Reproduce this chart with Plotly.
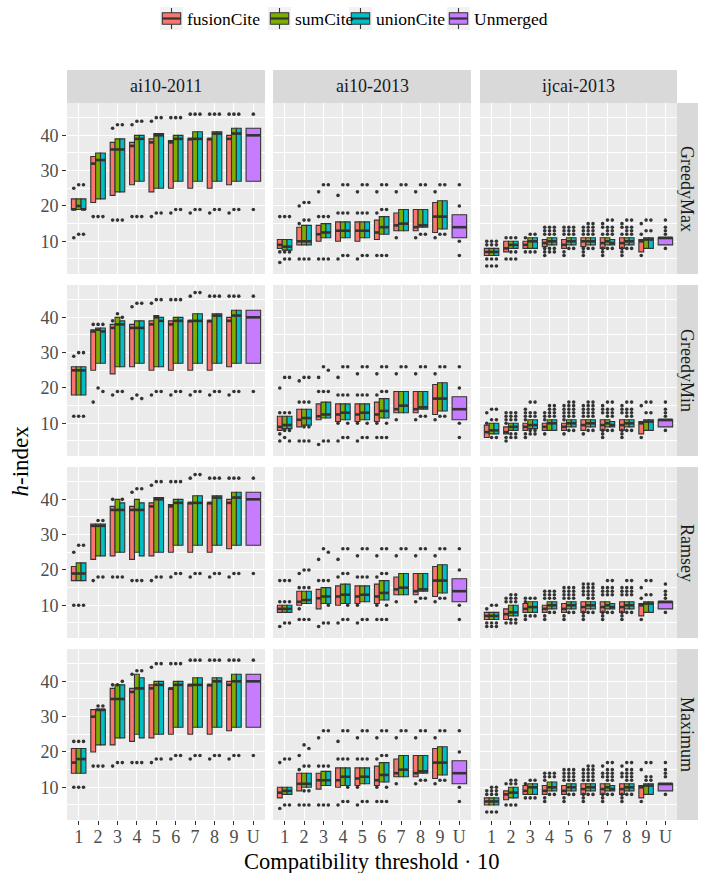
import plotly.graph_objects as go

# ---------------- categories / labels ----------------
SERIES = ["fusionCite", "sumCite", "unionCite"]
UNMERGED = "Unmerged"
DATASETS = ["ai10-2011", "ai10-2013", "ijcai-2013"]
METHODS = ["GreedyMax", "GreedyMin", "Ramsey", "Maximum"]
THRESHOLDS = [1, 2, 3, 4, 5, 6, 7, 8, 9]
TICK_LABELS = ["1", "2", "3", "4", "5", "6", "7", "8", "9", "U"]
Y_TICKS = [10, 20, 30, 40]

# ---------------- data: (q1, median, q3) per threshold 1..9; outliers per threshold ----------------
# ai10-2011
A11_GMAX = {
    "fusionCite": [(19, 19, 22), (21, 32, 34), (23, 36, 38), (26, 37, 38), (24, 38, 39), (25, 38, 38.5), (25, 39, 39), (25, 39, 39), (26, 39, 40)],
    "sumCite":    [(19, 20, 22), (22, 33, 35), (24, 36, 39), (27, 39, 40), (25, 40, 40.5), (27, 39, 40), (27, 39, 41), (27, 40.5, 41), (27, 40.5, 42)],
    "unionCite":  [(19, 19, 22), (22, 33, 35), (24, 36, 39), (27, 39, 40), (25, 40, 40.5), (27, 39, 40), (27, 39, 41), (27, 40.5, 41), (27, 40.5, 42)],
    "Unmerged":   [(27, 40, 42)],
}
A11_GMAX_OUT = {
    "fusionCite": [[25, 11], [17], [42, 16], [43, 17], [44, 17], [45, 18], [46, 18], [46, 18], [46, 18]],
    "sumCite":    [[26, 12], [17], [43, 16], [44, 17], [45, 18], [45, 19], [46, 19], [46, 19], [46, 19]],
    "unionCite":  [[26, 12], [17], [43, 16], [44, 17], [45, 18], [45, 19], [46, 19], [46, 19], [46, 19]],
    "Unmerged":   [[46, 19]],
}
A11_GMIN = {
    "fusionCite": [(18, 25, 26), (25, 36, 36.5), (24, 37, 38), (26, 37, 38), (25, 38, 39), (25, 38, 39), (25, 39, 39), (25, 39, 39), (26, 39, 40)],
    "sumCite":    [(18, 25, 26), (27, 36.5, 37), (26, 38, 40), (27, 37, 39), (26, 40, 40.5), (27, 39, 40), (27, 39, 41), (27, 40.5, 41), (27, 40.5, 42)],
    "unionCite":  [(18, 25, 26), (27, 36, 37), (26, 38, 39), (27, 37, 39), (26, 39, 40), (27, 39, 40), (27, 39, 41), (27, 40.5, 41), (27, 40.5, 42)],
    "Unmerged":   [(27, 40, 42)],
}
A11_GMIN_OUT = {
    "fusionCite": [[29, 12], [38, 16], [39, 18], [43, 17], [44, 18], [45, 18], [46, 18], [46, 18], [46, 18]],
    "sumCite":    [[30, 12], [38, 20], [41, 19], [44, 18], [45, 19], [45, 19], [47, 19], [46, 19], [46, 19]],
    "unionCite":  [[30, 12], [38, 19], [40, 19], [44, 17], [45, 19], [45, 19], [47, 19], [46, 19], [46, 19]],
    "Unmerged":   [[46, 19]],
}
A11_RAM = {
    "fusionCite": [(17, 19, 21), (23, 32.5, 33), (24, 37, 38), (23, 37, 38), (24, 38, 39), (25, 38, 38.5), (25, 39, 39), (25, 39, 39), (26, 39, 40)],
    "sumCite":    [(17, 19, 22), (24, 32.5, 33), (25, 37, 40), (25, 37, 40), (25, 40, 40.5), (27, 39, 40), (27, 39, 41), (27, 40.5, 41), (27, 40.5, 42)],
    "unionCite":  [(17, 19, 22), (24, 32.5, 33), (25, 37, 39), (24, 37, 39), (25, 40, 40.5), (27, 39, 40), (27, 39, 41), (27, 40.5, 41), (27, 40.5, 42)],
    "Unmerged":   [(27, 40, 42)],
}
A11_RAM_OUT = {
    "fusionCite": [[25, 10], [17], [40, 18], [42, 17], [44, 17], [45, 18], [46, 18], [46, 18], [46, 18]],
    "sumCite":    [[27, 10], [34, 18], [18], [43, 17], [45, 18], [45, 19], [47, 19], [46, 19], [46, 19]],
    "unionCite":  [[27, 10], [34, 18], [40, 18], [43, 17], [45, 18], [45, 19], [47, 19], [46, 19], [46, 19]],
    "Unmerged":   [[46, 19]],
}
A11_MAX = {
    "fusionCite": [(14, 17, 21), (20, 30, 32), (22, 35, 38), (23, 37, 38), (24, 38, 39), (25, 38, 38), (25, 39, 39), (25, 39, 39), (26, 39, 40)],
    "sumCite":    [(14, 18, 21), (22, 32, 32), (24, 35, 39), (25, 38, 42), (25, 39, 40), (27, 39, 40), (27, 39, 41), (27, 40, 41), (27, 40, 42)],
    "unionCite":  [(14, 18, 21), (22, 32, 32), (24, 35, 39), (24, 38, 41), (25, 39, 40), (27, 39, 40), (27, 39, 41), (27, 40, 41), (27, 40, 42)],
    "Unmerged":   [(27, 40, 42)],
}
A11_MAX_OUT = {
    "fusionCite": [[23, 10], [16], [39, 16], [42, 17], [44, 17], [45, 18], [46, 18], [46, 18], [46, 18]],
    "sumCite":    [[23, 10], [33, 16], [39, 17], [43, 17], [45, 18], [45, 19], [46, 19], [46, 19], [46, 19]],
    "unionCite":  [[23, 10], [33, 16], [40, 17], [43, 17], [45, 18], [45, 19], [46, 19], [46, 19], [46, 19]],
    "Unmerged":   [[46, 19]],
}

# ai10-2013
A13_GMAX = {
    "fusionCite": [(8, 9, 10.5), (9, 10, 14), (10, 12, 14.5), (10, 13, 15.5), (10, 13, 15.5), (10.5, 12.5, 16), (13, 14.5, 18), (13, 14, 19), (12.5, 17, 21)],
    "sumCite":    [(7.5, 8.5, 10.5), (9, 10, 14.5), (11, 12.5, 15), (11, 13, 15.5), (11, 13, 15.5), (12, 14, 17), (13, 15, 19), (14, 14.5, 19), (13.5, 17, 21.5)],
    "unionCite":  [(7.5, 8.5, 10.5), (9, 10, 14.5), (11, 12.5, 15), (11, 13, 15.5), (11, 13, 15.5), (12, 14, 17), (13, 15, 19), (14, 14.5, 19), (13.5, 17, 21.5)],
    "Unmerged":   [(11, 14, 17.5)],
}
A13_GMAX_OUT = {
    "fusionCite": [[17, 7, 4], [20, 15, 5], [24, 17, 5], [23, 18, 5], [24, 18, 5], [24, 18, 6], [24, 11], [24, 11], [24, 11]],
    "sumCite":    [[17, 7, 5], [21, 16, 5], [26, 17, 5], [26, 18, 6], [26, 18, 6], [26, 19, 6], [26], [26, 12], [26, 12]],
    "unionCite":  [[17, 7, 5], [21, 16, 5], [26, 17, 5], [26, 18, 6], [26, 18, 6], [26, 19, 6], [26], [26, 12], [26, 12]],
    "Unmerged":   [[26, 20, 10, 6]],
}
A13_GMIN = {
    "fusionCite": [(8, 9, 12), (9, 11, 14), (11, 12, 15.5), (10.5, 12.5, 15.5), (10.5, 12.5, 15.5), (10.5, 12.5, 16), (13, 14, 19), (13, 14, 19), (12.5, 17, 21)],
    "sumCite":    [(8.5, 9.5, 12), (9.5, 11.5, 14), (11.5, 12.5, 16), (11, 13, 15.5), (11, 13, 15.5), (11.5, 13.5, 17), (13, 15, 19), (14, 14.5, 19), (13.5, 17, 21.5)],
    "unionCite":  [(8.5, 9.5, 12), (9.5, 11.5, 14), (11.5, 12.5, 16), (11, 13, 15.5), (11, 13, 15.5), (11.5, 13.5, 17), (13, 15, 19), (14, 14.5, 19), (13.5, 17, 21.5)],
    "Unmerged":   [(11, 14, 17.5)],
}
A13_GMIN_OUT = {
    "fusionCite": [[20, 13, 7, 5], [22, 16, 5], [23, 19, 4], [23, 18, 10, 5], [24, 18, 10, 5], [24, 18, 10, 6], [24, 11], [24, 11], [24, 11]],
    "sumCite":    [[23, 13, 8, 6], [23, 16, 9, 5], [26, 19, 5], [26, 18, 6], [26, 18, 6], [26, 19, 6], [26], [26, 12], [26, 12]],
    "unionCite":  [[23, 13, 8, 5], [23, 16, 9, 5], [25, 19, 5], [26, 18, 10, 6], [26, 18, 10, 6], [26, 19, 10, 6], [26], [26, 12], [26, 12]],
    "Unmerged":   [[26, 20, 10, 6]],
}
A13_RAM = {
    "fusionCite": [(8, 9, 10), (10, 11, 14), (9, 12, 14.5), (10, 12.5, 15.5), (10.5, 12.5, 15.5), (10.5, 12.5, 16), (13, 14.5, 18), (13, 14, 19), (12.5, 17, 21)],
    "sumCite":    [(8, 9, 10), (10.5, 11.5, 14), (10.5, 12.5, 15), (10.5, 13, 16), (11, 13, 15.5), (11.5, 13.5, 17), (13, 15, 19), (14, 14.5, 19), (13.5, 17, 21.5)],
    "unionCite":  [(8, 9, 10), (10.5, 11.5, 14), (10.5, 12.5, 15), (10.5, 13, 16), (11, 13, 15.5), (11.5, 13.5, 17), (13, 15, 19), (14, 14.5, 19), (13.5, 17, 21.5)],
    "Unmerged":   [(11, 14, 17.5)],
}
A13_RAM_OUT = {
    "fusionCite": [[17, 11, 4], [19, 15, 9, 6], [23, 17, 4], [23, 18, 5], [24, 18, 10, 5], [24, 18, 10, 6], [24, 11], [24, 11], [24, 11]],
    "sumCite":    [[17, 11, 5], [20, 15, 6], [26, 17, 5], [26, 19, 6], [26, 18, 6], [26, 19, 6], [26], [26, 12], [26, 12]],
    "unionCite":  [[17, 11, 5], [20, 15, 6], [25, 17, 10, 5], [26, 19, 10, 6], [26, 18, 6], [26, 19, 10, 6], [26], [26, 12], [26, 12]],
    "Unmerged":   [[26, 20, 10, 6]],
}
A13_MAX = {
    "fusionCite": [(7, 8.5, 10), (9, 11, 14), (9.5, 12, 14), (10, 12, 15.5), (10.5, 12.5, 15.5), (10.5, 12, 16), (13, 14, 18), (13, 14, 19), (12.5, 17, 21)],
    "sumCite":    [(8, 9, 10), (10, 11, 14), (10.5, 12, 14.5), (10.5, 13, 15.5), (11, 13, 15.5), (11.5, 13.5, 17), (13, 15, 19), (14, 14.5, 19), (13.5, 17, 21.5)],
    "unionCite":  [(8, 9, 10), (10, 11, 14), (10.5, 12, 14.5), (10.5, 13, 15.5), (11, 13, 15.5), (11.5, 13.5, 17), (13, 15, 19), (14, 14.5, 19), (13.5, 17, 21.5)],
    "Unmerged":   [(11, 14, 17.5)],
}
A13_MAX_OUT = {
    "fusionCite": [[17, 4], [19, 15, 5], [24, 16, 5], [23, 18, 5], [24, 18, 10, 5], [24, 18, 10, 6], [24, 11], [24, 11], [24, 11]],
    "sumCite":    [[18, 5], [22, 16, 9, 5], [26, 16, 5], [26, 18, 6], [26, 18, 6], [26, 19, 6], [26], [26, 12], [26, 12]],
    "unionCite":  [[18, 5], [21, 16, 9, 5], [26, 16, 5], [26, 18, 10, 6], [26, 18, 6], [26, 19, 10, 6], [26], [26, 12], [26, 12]],
    "Unmerged":   [[26, 20, 10, 6]],
}

# ijcai-2013
IJ_GMAX = {
    "fusionCite": [(6, 7, 8), (7, 8, 10), (8, 9, 10), (8.5, 9.5, 10.5), (8, 9, 10.5), (8.5, 10, 11), (8, 9.5, 11), (8, 9.5, 11), (7, 10, 10.5)],
    "sumCite":    [(6, 7, 8), (8, 9, 10), (8, 10, 11), (9, 10, 11), (9, 10, 11), (9, 10, 11), (9, 10, 11), (9, 10, 11), (8, 10.5, 11)],
    "unionCite":  [(6, 7, 8), (8, 9, 10), (8, 10, 11), (9, 10, 11), (9, 10, 11), (9, 10, 11), (9, 9.5, 10.5), (9, 10, 11), (8, 10.5, 11)],
    "Unmerged":   [(9, 11, 11)],
}
IJ_GMAX_OUT = {
    "fusionCite": [[10, 9, 5, 3], [11, 5], [11, 7], [14, 13, 12, 8, 7, 6], [14, 13, 12, 7, 6], [14, 13, 12, 8, 7, 6], [15, 14, 12, 8, 7, 6], [15, 14, 12, 8, 7, 6], [15, 12, 6]],
    "sumCite":    [[10, 9, 5, 3], [11, 7, 5], [12, 7], [14, 13, 12, 8, 7], [14, 13, 12, 8], [15, 14, 13, 12, 8], [16, 14, 13, 12, 8], [16, 14, 13, 12, 8], [16, 13]],
    "unionCite":  [[10, 9, 5, 3], [11, 7, 5], [12, 7], [14, 13, 12, 8, 7], [14, 13, 12, 8], [15, 14, 13, 12, 8], [16, 14, 13, 12, 8], [16, 14, 13, 12, 8], [16, 13]],
    "Unmerged":   [[16, 14, 13, 12, 8]],
}
IJ_GMIN = {
    "fusionCite": [(6, 7.5, 9.5), (7, 7.5, 9), (8, 9, 10), (8, 9, 10), (8, 9, 10), (8, 9.5, 11), (8, 9.5, 11), (8, 9.5, 11), (7, 10, 10.5)],
    "sumCite":    [(7, 8, 10), (8, 9, 10), (8.5, 9.5, 11), (8, 10, 11), (9, 10, 11), (9, 10, 11), (9, 10, 11), (9, 10, 11), (8, 10.5, 11)],
    "unionCite":  [(7, 8, 10), (8, 9, 10), (8.5, 9.5, 11), (8, 10, 11), (9, 10, 11), (9, 10, 11), (9, 9.5, 10.5), (9, 10, 11), (8, 10.5, 11)],
    "Unmerged":   [(9, 11, 11)],
}
IJ_GMIN_OUT = {
    "fusionCite": [[13, 10], [13, 12, 11, 10, 6, 5], [14, 13, 12, 11, 7, 6], [13, 12, 11, 7], [15, 14, 13, 12, 11, 7], [15, 14, 13, 12, 7], [15, 14, 13, 8, 7, 6], [15, 14, 13, 8, 7, 6], [15, 6]],
    "sumCite":    [[14, 11, 6], [13, 12, 11, 7, 6], [16, 13, 12, 8, 7], [15, 14, 13, 12], [16, 15, 14, 13, 12, 8], [16, 15, 14, 13, 12, 8], [16, 14, 13, 12, 8], [16, 14, 13, 12, 8], [16, 13]],
    "unionCite":  [[14, 11, 6], [13, 12, 11, 7, 6], [16, 13, 12, 8, 7], [15, 14, 13, 12], [16, 15, 14, 13, 12, 8], [16, 15, 14, 13, 12, 8], [16, 14, 13, 12, 8], [16, 14, 13, 12, 8], [16, 13]],
    "Unmerged":   [[16, 14, 13, 12, 8]],
}
IJ_RAM = {
    "fusionCite": [(6, 7, 8), (6, 7.5, 9), (8, 9, 10.5), (8, 9, 10), (8, 9, 10.5), (8, 9.5, 11), (8, 9.5, 11), (8, 9.5, 11), (7, 10, 10.5)],
    "sumCite":    [(6, 7, 8), (7, 8, 10), (8, 9.5, 11), (9, 10, 11), (9, 10, 11), (9, 10, 11), (9, 10, 11), (9, 10, 11), (8, 10.5, 11)],
    "unionCite":  [(6, 7, 8), (7, 8, 10), (8, 9.5, 11), (9, 10, 11), (9, 10, 11), (9, 10, 11), (9, 9.5, 10.5), (9, 10, 11), (8, 10.5, 11)],
    "Unmerged":   [(9, 11, 11)],
}
IJ_RAM_OUT = {
    "fusionCite": [[9, 5, 4], [12, 11, 5], [12, 11, 7, 6], [14, 13, 12, 7, 6], [15, 14, 13, 12, 7, 6], [16, 15, 14, 13, 8, 7, 6], [15, 14, 13, 8, 7, 6], [15, 14, 13, 8, 7, 6], [15, 12, 6]],
    "sumCite":    [[10, 5, 4], [13, 12, 11, 6, 5], [12, 7], [14, 13, 12, 8], [15, 14, 13, 12, 8], [16, 15, 14, 13, 12, 8], [17, 15, 14, 13, 8], [17, 15, 14, 13, 8], [17, 13]],
    "unionCite":  [[10, 5, 4], [13, 12, 11, 6, 5], [12, 7], [14, 13, 12, 8], [15, 14, 13, 12, 8], [16, 15, 14, 13, 12, 8], [17, 15, 14, 13, 8], [17, 15, 14, 13, 8], [17, 13]],
    "Unmerged":   [[16, 14, 13, 12, 8]],
}
IJ_MAX = {
    "fusionCite": [(5, 6, 7), (6.5, 8, 9), (8, 9, 10.5), (8, 9, 10.5), (8, 9, 10.5), (8, 9.5, 11), (8, 9.5, 11), (8, 9.5, 11), (7, 10, 10.5)],
    "sumCite":    [(5, 6, 7), (7, 8.5, 10), (8, 10, 11), (9, 10, 11.5), (9, 10, 11), (9, 10, 11), (9, 10, 11), (9, 10, 11), (8, 10.5, 11)],
    "unionCite":  [(5, 6, 7), (7, 8.5, 10), (8, 10, 11), (9, 10, 11.5), (9, 10, 11), (9, 10, 11), (9, 9.5, 10.5), (9, 10, 11), (8, 10.5, 11)],
    "Unmerged":   [(9, 11, 11)],
}
IJ_MAX_OUT = {
    "fusionCite": [[9, 8, 3], [11, 5], [11, 7], [14, 13, 12, 7, 6], [15, 14, 13, 12, 7, 6], [15, 14, 13, 12, 8, 7, 6], [16, 14, 13, 8, 7, 6], [16, 14, 13, 8, 7, 6], [15, 6]],
    "sumCite":    [[10, 9, 8, 3], [12, 11, 5], [12, 7], [14, 13, 8], [15, 14, 13, 12, 8], [16, 15, 14, 13, 12, 8], [17, 15, 14, 13, 12, 8], [17, 15, 14, 13, 12, 8], [17, 13, 12]],
    "unionCite":  [[10, 9, 8, 3], [12, 11, 5], [12, 7], [14, 13, 8], [15, 14, 13, 12, 8], [16, 15, 14, 13, 12, 8], [17, 15, 14, 13, 12, 8], [17, 15, 14, 13, 12, 8], [17, 13, 12]],
    "Unmerged":   [[17, 15, 14, 13, 8]],
}

# facet grid (rows = METHODS, cols = DATASETS)
FACET_BOXES = [
    [A11_GMAX, A13_GMAX, IJ_GMAX],
    [A11_GMIN, A13_GMIN, IJ_GMIN],
    [A11_RAM, A13_RAM, IJ_RAM],
    [A11_MAX, A13_MAX, IJ_MAX],
]
FACET_OUTLIERS = [
    [A11_GMAX_OUT, A13_GMAX_OUT, IJ_GMAX_OUT],
    [A11_GMIN_OUT, A13_GMIN_OUT, IJ_GMIN_OUT],
    [A11_RAM_OUT, A13_RAM_OUT, IJ_RAM_OUT],
    [A11_MAX_OUT, A13_MAX_OUT, IJ_MAX_OUT],
]

# ---------------- styling ----------------
COLORS = {"fusionCite": "#F8766D", "sumCite": "#7CAE00", "unionCite": "#00BFC4", "Unmerged": "#C77CFF"}
FONT = "Liberation Serif"
W, H = 704, 873
COL_PX = [(67, 265), (273, 471), (480, 677)]
ROW_PX = [(103, 274), (285, 456), (467, 638), (649, 820)]
DODGE = 0.75
BOX_W = DODGE / len(SERIES)
UNMERGED_POS = len(THRESHOLDS) + 1
LINE_C = "#333333"


def fx(px):
    return px / W


def fy(py):
    return 1 - py / H


fig = go.Figure()
layout_axes = {}

for r, method in enumerate(METHODS):
    for c, dataset in enumerate(DATASETS):
        k = r * 3 + c + 1
        xa = "x" if k == 1 else f"x{k}"
        ya = "y" if k == 1 else f"y{k}"
        boxes = FACET_BOXES[r][c]
        outs = FACET_OUTLIERS[r][c]

        med_x, med_y, out_x, out_y = [], [], [], []
        for s, name in enumerate(SERIES + [UNMERGED]):
            if name == UNMERGED:
                centers = [UNMERGED_POS]
                width = DODGE
            else:
                offset = (s - (len(SERIES) - 1) / 2) * BOX_W
                centers = [t + offset for t in THRESHOLDS]
                width = BOX_W
            stats = boxes[name]
            q1 = [v[0] for v in stats]
            med = [v[1] for v in stats]
            q3 = [v[2] for v in stats]
            fig.add_trace(go.Box(
                x=centers, q1=q1, median=med, q3=q3, lowerfence=q1, upperfence=q3,
                width=width, fillcolor=COLORS[name],
                line=dict(color=LINE_C, width=1.1), whiskerwidth=0,
                boxpoints=False, showlegend=False, name=name,
                xaxis=xa, yaxis=ya, hoverinfo="skip",
            ))
            for cx, m, pts in zip(centers, med, outs[name]):
                med_x += [cx - width / 2, cx + width / 2, None]
                med_y += [m, m, None]
                for p in pts:
                    out_x.append(cx)
                    out_y.append(p)
        fig.add_trace(go.Scatter(x=med_x, y=med_y, mode="lines", line=dict(color=LINE_C, width=2.6),
                                 showlegend=False, hoverinfo="skip", xaxis=xa, yaxis=ya))
        fig.add_trace(go.Scatter(x=out_x, y=out_y, mode="markers",
                                 marker=dict(color=LINE_C, size=3.6, line=dict(width=0)),
                                 showlegend=False, hoverinfo="skip", xaxis=xa, yaxis=ya))

        bottom = r == len(METHODS) - 1
        left = c == 0
        x0, x1 = COL_PX[c]
        t0, t1 = ROW_PX[r]
        layout_axes["xaxis" if k == 1 else f"xaxis{k}"] = dict(
            domain=[fx(x0), fx(x1)], anchor=ya, range=[0.4, UNMERGED_POS + 0.6],
            tickmode="array", tickvals=list(range(1, UNMERGED_POS + 1)), ticktext=TICK_LABELS,
            showticklabels=bottom, ticks="outside" if bottom else "", ticklen=4, tickwidth=1.1,
            tickcolor=LINE_C, showgrid=True, gridcolor="white", gridwidth=1.2,
            zeroline=False, showline=False, fixedrange=True, automargin=False,
            ticklabelstandoff=-4,
            tickfont=dict(family=FONT, size=18, color="#4D4D4D"),
        )
        layout_axes["yaxis" if k == 1 else f"yaxis{k}"] = dict(
            domain=[fy(t1), fy(t0)], anchor=xa, range=[0.75, 49.15],
            tickmode="array", tickvals=Y_TICKS,
            showticklabels=left, ticks="outside" if left else "", ticklen=4, tickwidth=1.1,
            tickcolor=LINE_C, showgrid=True, gridcolor="white", gridwidth=1.2,
            minor=dict(tickmode="array", tickvals=[5, 15, 25, 35, 45], showgrid=True,
                       gridcolor="white", gridwidth=0.55, ticks=""),
            zeroline=False, showline=False, fixedrange=True, automargin=False,
            tickfont=dict(family=FONT, size=18, color="#4D4D4D"),
        )

shapes = []
annotations = []
STRIP_C = "#D9D9D9"
STRIP_TOP = (70, 103)
STRIP_RIGHT = (677, 698)
for c, dataset in enumerate(DATASETS):
    x0, x1 = COL_PX[c]
    shapes.append(dict(type="rect", xref="paper", yref="paper", x0=fx(x0), x1=fx(x1),
                       y0=fy(STRIP_TOP[1]), y1=fy(STRIP_TOP[0]), fillcolor=STRIP_C, line=dict(width=0), layer="below"))
    annotations.append(dict(text=dataset, xref="paper", yref="paper", x=fx((x0 + x1) / 2),
                            y=fy(sum(STRIP_TOP) / 2), showarrow=False, xanchor="center", yanchor="middle",
                            font=dict(family=FONT, size=18, color="#1A1A1A")))
for r, method in enumerate(METHODS):
    t0, t1 = ROW_PX[r]
    shapes.append(dict(type="rect", xref="paper", yref="paper", x0=fx(STRIP_RIGHT[0]), x1=fx(STRIP_RIGHT[1]),
                       y0=fy(t1), y1=fy(t0), fillcolor=STRIP_C, line=dict(width=0), layer="below"))
    annotations.append(dict(text=method, xref="paper", yref="paper", x=fx(sum(STRIP_RIGHT) / 2),
                            y=fy((t0 + t1) / 2), showarrow=False, xanchor="center", yanchor="middle",
                            textangle=90, font=dict(family=FONT, size=18, color="#1A1A1A")))

# axis titles
annotations.append(dict(text="Compatibility threshold · 10", xref="paper", yref="paper",
                        x=fx((COL_PX[0][0] + COL_PX[-1][1]) / 2), y=fy(861), showarrow=False,
                        xanchor="center", yanchor="middle", font=dict(family=FONT, size=22.5, color="black")))
annotations.append(dict(text="<i>h</i>-index", xref="paper", yref="paper",
                        x=fx(20), y=fy((ROW_PX[0][0] + ROW_PX[-1][1]) / 2), showarrow=False, textangle=-90,
                        xanchor="center", yanchor="middle", font=dict(family=FONT, size=23, color="black")))

# legend (boxplot key glyphs)
KEY = 23
KEY_TOP = 7
LEG_KEYS_X = [160, 268, 349, 447]
for name, kx in zip(SERIES + [UNMERGED], LEG_KEYS_X):
    shapes.append(dict(type="rect", xref="paper", yref="paper", x0=fx(kx), x1=fx(kx + KEY),
                       y0=fy(KEY_TOP + KEY), y1=fy(KEY_TOP), fillcolor="#F2F2F2", line=dict(width=0)))
    cx = kx + KEY / 2
    shapes.append(dict(type="line", xref="paper", yref="paper", x0=fx(cx), x1=fx(cx),
                       y0=fy(KEY_TOP + 1), y1=fy(KEY_TOP + KEY - 1), line=dict(color=LINE_C, width=1.1)))
    shapes.append(dict(type="rect", xref="paper", yref="paper", x0=fx(kx + 0.1 * KEY), x1=fx(kx + 0.9 * KEY),
                       y0=fy(KEY_TOP + 0.75 * KEY), y1=fy(KEY_TOP + 0.25 * KEY), fillcolor=COLORS[name],
                       line=dict(color=LINE_C, width=1.1)))
    shapes.append(dict(type="line", xref="paper", yref="paper", x0=fx(kx + 0.1 * KEY), x1=fx(kx + 0.9 * KEY),
                       y0=fy(KEY_TOP + 0.5 * KEY), y1=fy(KEY_TOP + 0.5 * KEY), line=dict(color=LINE_C, width=2.2)))
    annotations.append(dict(text=name, xref="paper", yref="paper", x=fx(kx + KEY + 2), y=fy(KEY_TOP + KEY / 2),
                            showarrow=False, xanchor="left", yanchor="middle",
                            font=dict(family=FONT, size=17.5, color="black")))

fig.update_layout(
    width=W, height=H, margin=dict(l=0, r=0, t=0, b=0, autoexpand=False),
    paper_bgcolor="white", plot_bgcolor="#EBEBEB",
    boxmode="overlay", showlegend=False,
    shapes=shapes, annotations=annotations,
    font=dict(family=FONT),
    **layout_axes,
)

fig.write_html(
    "out.html",
    config={"displayModeBar": False},
    post_script="document.body.style.margin='0px';document.body.style.overflow='hidden';",
)
